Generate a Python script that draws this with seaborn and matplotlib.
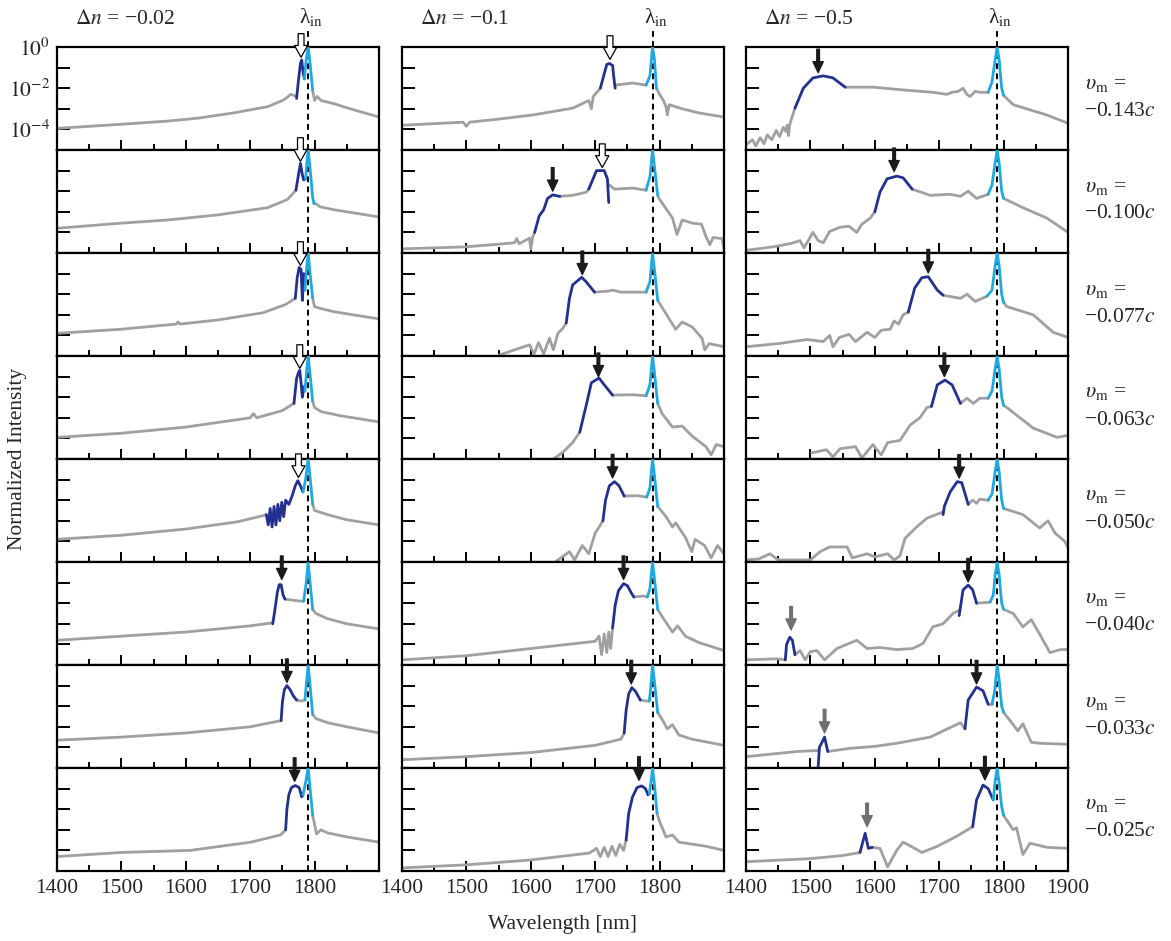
import numpy as np
import matplotlib
matplotlib.use('Agg')
import matplotlib.pyplot as plt
import seaborn as sns

# Spectra: (wavelength nm, log10 normalized intensity)
delta_n = ['\u22120.02', '\u22120.1', '\u22120.5']
speeds = ['\u22120.143', '\u22120.100', '\u22120.077', '\u22120.063',
          '\u22120.050', '\u22120.040', '\u22120.033', '\u22120.025']
lambda_in = 1790

##### column 1 : dn = -0.02
c1r0_gray = [(1400,-3.95),(1450,-3.85),(1500,-3.75),(1571,-3.6),(1620,-3.45),(1674,-3.2),(1727,-2.9),(1752,-2.57),(1763,-2.3),(1772,-2.4),
             None,(1797,-2.1),(1800,-2.6),(1804,-2.4),(1810,-2.6),(1830,-2.75),(1850,-2.95),(1872,-3.15),(1900,-3.4)]
c1r0_blue = [(1772,-2.5),(1775,-1.6),(1778,-0.8),(1780,-0.63),(1782,-1.2),(1784,-1.55)]
c1r0_cyan = [(1784,-1.55),(1787,-0.6),(1790,0.0),(1793,-0.8),(1797,-2.1)]

c1r1_gray = [(1400,-3.8),(1500,-3.55),(1571,-3.4),(1650,-3.15),(1727,-2.8),(1758,-2.4),(1771,-1.95),
             None,(1799,-2.6),(1802,-2.6),(1808,-2.75),(1830,-2.9),(1860,-3.05),(1900,-3.25)]
c1r1_blue = [(1771,-1.95),(1775,-1.2),(1778,-0.65),(1781,-1.2),(1783,-1.45),(1786,-1.4)]
c1r1_cyan = [(1786,-1.4),(1788,-0.6),(1790,0.0),(1793,-0.9),(1797,-2.3),(1799,-2.6)]

c1r2_gray = [(1400,-3.9),(1500,-3.7),(1585,-3.45),(1588,-3.35),(1591,-3.45),(1650,-3.25),(1720,-2.9),(1755,-2.5),(1770,-2.2),
             None,(1797,-2.2),(1800,-2.6),(1810,-2.7),(1830,-2.85),(1860,-3.0),(1900,-3.2)]
c1r2_blue = [(1770,-2.2),(1773,-1.2),(1776,-0.7),(1779,-0.8),(1781,-2.3),(1783,-1.0),(1785,-1.8)]
c1r2_cyan = [(1785,-1.8),(1788,-0.6),(1790,0.0),(1793,-1.0),(1797,-2.2)]

c1r3_gray = [(1400,-3.95),(1500,-3.75),(1600,-3.45),(1700,-3.0),(1705,-2.8),(1710,-3.0),(1750,-2.65),(1768,-2.3),
             None,(1797,-2.2),(1800,-2.5),(1810,-2.7),(1840,-2.9),(1870,-3.05),(1900,-3.2)]
c1r3_blue = [(1768,-2.3),(1772,-1.1),(1775,-0.8),(1777,-0.7),(1779,-1.3),(1781,-2.0),(1783,-1.5),(1785,-1.7)]
c1r3_cyan = [(1785,-1.7),(1788,-0.6),(1790,0.0),(1793,-0.9),(1797,-2.2)]

c1r4_gray = [(1400,-3.9),(1500,-3.7),(1600,-3.4),(1680,-3.05),(1720,-2.75),(1725,-2.7),
             None,(1797,-2.2),(1800,-2.5),(1820,-2.7),(1850,-2.95),(1900,-3.2)]
c1r4_blue = [(1725,-2.7),(1728,-3.2),(1731,-2.4),(1734,-3.3),(1737,-2.3),(1740,-3.2),(1743,-2.2),(1746,-3.0),(1749,-2.1),
             (1752,-2.8),(1755,-2.0),(1760,-2.2),(1765,-1.8),(1770,-1.3),(1774,-1.05),(1778,-1.3),(1782,-1.6)]
c1r4_cyan = [(1782,-1.6),(1786,-1.0),(1790,0.0),(1793,-0.9),(1797,-2.2)]

c1r5_gray = [(1400,-3.8),(1500,-3.6),(1600,-3.4),(1700,-3.1),(1735,-2.95),
             None,(1754,-1.8),(1765,-1.85),(1778,-1.9),(1783,-1.9),
             None,(1797,-2.3),(1802,-2.5),(1820,-2.75),(1850,-3.0),(1900,-3.25)]
c1r5_blue = [(1735,-3.0),(1738,-2.4),(1742,-1.5),(1745,-1.1),(1748,-1.1),(1751,-1.6),(1754,-1.8)]
c1r5_cyan = [(1783,-1.9),(1787,-1.0),(1790,0.0),(1793,-1.0),(1797,-2.3)]

c1r6_gray = [(1400,-3.65),(1500,-3.5),(1600,-3.3),(1700,-3.0),(1748,-2.7),
             None,(1772,-1.7),(1780,-1.75),(1785,-1.7),
             None,(1797,-2.4),(1802,-2.6),(1820,-2.8),(1850,-3.0),(1900,-3.3)]
c1r6_blue = [(1748,-2.7),(1750,-1.8),(1753,-1.2),(1757,-1.0),(1762,-1.2),(1767,-1.5),(1772,-1.7)]
c1r6_cyan = [(1785,-1.7),(1787,-1.0),(1790,0.0),(1793,-1.0),(1797,-2.4)]

c1r7_gray = [(1400,-4.3),(1500,-4.1),(1607,-4.0),(1701,-3.6),(1747,-3.25),(1755,-3.0),
             None,(1797,-2.3),(1803,-3.2),(1810,-3.0),(1820,-3.15),(1851,-3.35),(1900,-3.6)]
c1r7_blue = [(1755,-3.0),(1757,-2.0),(1760,-1.3),(1764,-0.95),(1770,-0.85),(1776,-0.95),(1780,-1.4),(1782,-1.3)]
c1r7_cyan = [(1782,-1.3),(1786,-0.7),(1790,0.0),(1793,-1.0),(1797,-2.3)]

##### column 2 : dn = -0.1
c2r0_gray = [(1400,-3.8),(1450,-3.72),(1495,-3.65),(1500,-3.85),(1505,-3.65),(1550,-3.5),(1603,-3.3),(1665,-2.97),(1690,-2.6),
             (1694,-3.0),(1697,-2.4),(1708,-2.0),
             None,(1731,-1.85),(1745,-1.8),(1758,-1.75),(1779,-1.85),
             None,(1795,-2.0),(1800,-2.3),(1806,-2.6),(1810,-2.9),(1812,-3.3),(1815,-2.8),(1835,-3.0),(1861,-3.2),(1900,-3.4)]
c2r0_blue = [(1708,-2.0),(1714,-1.3),(1718,-0.85),(1722,-0.8),(1727,-0.9),(1729,-1.5),(1731,-2.0)]
c2r0_cyan = [(1779,-1.85),(1785,-1.4),(1789,0.0),(1792,-0.6),(1795,-2.0)]

c2r1_gray = [(1400,-4.8),(1500,-4.7),(1551,-4.57),(1575,-4.5),(1578,-4.3),(1582,-4.55),(1598,-4.28),(1600,-4.8),(1603,-4.2),(1606,-4.0),
             None,(1645,-2.25),(1665,-2.2),(1686,-2.05),(1690,-1.9),
             None,(1722,-1.7),(1730,-1.9),(1758,-1.85),(1779,-1.95),
             None,(1797,-2.2),(1799,-2.35),(1820,-3.3),(1827,-4.1),(1835,-3.4),(1851,-3.55),(1865,-3.6),(1872,-4.2),
             (1878,-4.6),(1883,-4.25),(1897,-4.3),(1900,-4.8)]
c2r1_blue = [(1606,-4.0),(1613,-3.2),(1620,-2.9),(1626,-2.35),(1634,-2.18),(1645,-2.25),
             None,(1690,-1.9),(1702,-1.0),(1714,-1.0),(1719,-1.4),(1721,-2.55)]
c2r1_cyan = [(1779,-1.95),(1785,-1.3),(1789,0.0),(1792,-0.8),(1797,-2.2)]

c2r2_gray = [(1551,-4.95),(1598,-4.46),(1605,-4.9),(1612,-4.35),(1620,-4.9),(1629,-4.13),(1635,-4.7),(1642,-3.9),(1650,-3.65),(1655,-3.4),
             None,(1699,-1.9),(1720,-1.85),(1727,-1.8),(1740,-1.9),(1758,-1.9),(1779,-1.9),
             None,(1797,-2.3),(1804,-2.65),(1825,-3.7),(1835,-3.35),(1851,-3.6),(1866,-4.15),(1870,-4.7),(1877,-4.4),(1900,-4.55)]
c2r2_blue = [(1655,-3.4),(1660,-2.2),(1665,-1.55),(1679,-1.18),(1686,-1.4),(1699,-1.9)]
c2r2_cyan = [(1779,-1.9),(1785,-1.4),(1789,0.0),(1792,-0.8),(1797,-2.3)]

c2r3_gray = [(1637,-4.95),(1650,-4.67),(1665,-4.2),(1676,-3.7),
             None,(1727,-1.9),(1758,-1.88),(1779,-1.93),
             None,(1797,-2.3),(1804,-2.8),(1820,-3.45),(1835,-3.4),(1851,-3.9),(1872,-4.4),(1880,-4.8),(1888,-4.3),(1900,-4.4)]
c2r3_blue = [(1676,-3.7),(1686,-2.4),(1694,-1.3),(1706,-1.07),(1714,-1.4),(1727,-1.9)]
c2r3_cyan = [(1779,-1.93),(1785,-1.4),(1789,0.0),(1792,-0.8),(1797,-2.3)]

c2r4_gray = [(1640,-4.95),(1660,-4.5),(1668,-4.9),(1680,-4.2),(1690,-4.6),(1700,-3.6),(1712,-3.0),
             None,(1745,-1.8),(1765,-1.78),(1780,-1.85),
             None,(1797,-2.3),(1810,-2.8),(1820,-3.3),(1825,-3.1),(1840,-3.8),(1850,-4.5),(1855,-3.9),(1870,-4.2),
             (1880,-4.8),(1890,-4.2),(1900,-4.6)]
c2r4_blue = [(1712,-3.0),(1716,-2.0),(1722,-1.3),(1730,-1.1),(1737,-1.3),(1745,-1.8)]
c2r4_cyan = [(1780,-1.85),(1785,-1.4),(1789,0.0),(1792,-0.8),(1797,-2.3)]

c2r5_gray = [(1400,-4.75),(1500,-4.55),(1600,-4.2),(1700,-3.85),(1706,-3.6),(1710,-4.5),(1714,-3.5),(1718,-4.4),
             (1721,-3.4),(1724,-4.2),(1727,-3.2),
             None,(1760,-1.7),(1775,-1.65),(1781,-1.7),
             None,(1797,-2.3),(1805,-2.7),(1820,-3.4),(1828,-3.1),(1840,-3.6),(1860,-3.9),(1880,-4.1),(1900,-4.3)]
c2r5_blue = [(1727,-3.2),(1731,-2.1),(1736,-1.4),(1744,-1.05),(1750,-1.15),(1756,-1.5),(1760,-1.7)]
c2r5_cyan = [(1781,-1.7),(1785,-1.3),(1789,0.0),(1792,-0.8),(1797,-2.3)]

c2r6_gray = [(1400,-4.6),(1500,-4.45),(1600,-4.25),(1700,-3.9),(1740,-3.6),(1745,-3.3),
             None,(1770,-1.7),(1780,-1.75),(1784,-1.75),
             None,(1797,-2.3),(1805,-2.7),(1812,-3.1),(1820,-2.9),(1830,-3.4),(1850,-3.6),(1900,-3.9)]
c2r6_blue = [(1745,-3.3),(1748,-2.2),(1752,-1.4),(1757,-1.1),(1763,-1.3),(1770,-1.7)]
c2r6_cyan = [(1784,-1.75),(1786,-1.2),(1789,0.0),(1792,-0.8),(1797,-2.3)]

c2r7_gray = [(1400,-4.85),(1500,-4.7),(1598,-4.47),(1691,-4.13),(1702,-3.9),(1708,-4.3),(1714,-3.85),(1720,-4.3),(1726,-3.8),
             (1732,-4.25),(1738,-3.7),(1744,-4.0),(1748,-3.5),
             None,(1796,-2.2),(1800,-2.6),(1810,-3.35),(1820,-3.25),(1830,-3.6),(1872,-3.8),(1900,-4.0)]
c2r7_blue = [(1748,-3.5),(1752,-2.2),(1758,-1.4),(1765,-0.95),(1772,-0.87),(1778,-1.0),(1782,-1.3),(1784,-1.25)]
c2r7_cyan = [(1784,-1.25),(1787,-0.6),(1789,0.0),(1792,-0.8),(1796,-2.2)]

##### column 3 : dn = -0.5
c3r0_gray = [(1400,-4.75),(1410,-4.5),(1415,-4.8),(1422,-4.4),(1428,-4.7),(1433,-4.27),(1440,-4.5),(1447,-4.05),(1452,-4.35),
             (1458,-3.9),(1462,-4.1),(1464,-3.8),(1466,-4.3),(1468,-3.75),(1476,-2.97),
             None,(1554,-1.95),(1597,-1.95),(1650,-2.1),(1690,-2.2),(1712,-2.3),(1720,-2.2),(1730,-2.15),(1737,-2.0),
             (1743,-2.3),(1748,-2.4),(1756,-2.15),(1763,-2.2),(1776,-2.2),
             None,(1800,-2.35),(1815,-2.8),(1846,-3.1),(1867,-3.3),(1900,-3.7)]
c3r0_blue = [(1476,-2.97),(1489,-2.0),(1504,-1.5),(1520,-1.4),(1535,-1.5),(1554,-1.95)]
c3r0_cyan = [(1776,-2.2),(1782,-1.7),(1787,-0.6),(1790,0.0),(1793,-0.6),(1797,-2.0),(1800,-2.35)]

c3r1_gray = [(1400,-4.87),(1442,-4.7),(1468,-4.55),(1484,-4.4),(1490,-4.75),(1504,-4.0),(1512,-4.4),(1520,-4.5),(1530,-3.95),
             (1546,-3.75),(1560,-3.7),(1572,-4.0),(1580,-3.6),(1593,-3.3),(1600,-3.0),
             None,(1658,-1.9),(1686,-2.2),(1717,-2.15),(1733,-2.25),(1745,-2.0),(1758,-2.35),(1776,-2.15),
             None,(1800,-2.35),(1830,-2.8),(1867,-3.3),(1900,-4.0)]
c3r1_blue = [(1600,-3.0),(1608,-2.05),(1619,-1.4),(1634,-1.27),(1644,-1.35),(1658,-1.9)]
c3r1_cyan = [(1776,-2.15),(1782,-1.7),(1787,-0.6),(1790,0.0),(1793,-0.6),(1797,-2.0),(1800,-2.35)]

c3r2_gray = [(1400,-4.55),(1450,-4.4),(1495,-4.2),(1520,-4.3),(1530,-4.0),(1535,-4.55),(1545,-4.1),(1560,-3.95),(1570,-4.3),
             (1588,-3.85),(1600,-4.1),(1610,-3.75),(1624,-3.7),(1630,-3.3),(1637,-3.45),(1644,-3.0),(1652,-2.87),
             None,(1706,-2.05),(1733,-2.2),(1743,-2.0),(1756,-2.35),(1774,-2.1),
             None,(1800,-2.4),(1805,-2.6),(1846,-3.0),(1877,-3.85),(1900,-4.1)]
c3r2_blue = [(1652,-2.87),(1662,-1.7),(1673,-1.2),(1683,-1.15),(1697,-1.8),(1706,-2.05)]
c3r2_cyan = [(1774,-2.1),(1782,-1.8),(1787,-0.6),(1790,0.0),(1793,-0.6),(1797,-2.0),(1800,-2.4)]

c3r3_gray = [(1502,-4.7),(1525,-4.55),(1535,-4.9),(1546,-4.5),(1570,-4.4),(1580,-4.95),(1597,-4.3),(1610,-4.8),(1620,-4.2),
             (1639,-4.1),(1655,-3.35),(1670,-3.0),(1681,-2.5),(1688,-2.45),
             None,(1733,-2.3),(1743,-2.05),(1753,-2.3),(1763,-2.05),(1776,-2.05),
             None,(1800,-2.4),(1805,-2.5),(1846,-3.5),(1883,-3.95),(1900,-3.85)]
c3r3_blue = [(1688,-2.45),(1697,-1.4),(1709,-1.17),(1720,-1.4),(1733,-2.3)]
c3r3_cyan = [(1776,-2.05),(1782,-1.7),(1787,-0.6),(1790,0.0),(1793,-0.6),(1797,-2.0),(1800,-2.4)]

c3r4_gray = [(1400,-4.9),(1420,-4.85),(1437,-4.6),(1450,-4.9),(1500,-4.9),(1515,-4.5),(1530,-4.27),(1557,-4.27),(1565,-4.8),
             (1588,-4.6),(1600,-4.75),(1620,-4.6),(1630,-4.9),(1639,-4.7),(1647,-3.85),(1665,-3.3),(1681,-2.87),(1706,-2.57),
             None,(1745,-2.2),(1752,-2.0),(1758,-2.15),(1763,-1.95),(1776,-2.0),
             None,(1800,-2.4),(1830,-2.7),(1856,-3.35),(1869,-3.0),(1880,-3.6),(1895,-4.0),(1900,-4.3)]
c3r4_blue = [(1706,-2.7),(1708,-2.3),(1717,-1.6),(1728,-1.1),(1735,-1.15),(1745,-2.2)]
c3r4_cyan = [(1776,-2.0),(1782,-1.7),(1787,-0.6),(1790,0.0),(1793,-0.6),(1797,-2.0),(1800,-2.4)]

c3r5_gray = [(1400,-4.75),(1448,-4.7),(1461,-4.75),
             None,(1476,-4.5),(1484,-4.3),(1492,-4.75),(1500,-4.35),(1510,-4.3),(1522,-4.75),(1541,-4.2),(1572,-3.8),
             (1588,-4.2),(1608,-4.15),(1634,-4.25),(1659,-4.2),(1675,-3.95),(1690,-3.15),(1706,-3.0),(1722,-2.48),(1731,-2.35),
             None,(1758,-2.0),(1779,-1.95),
             None,(1800,-2.3),(1815,-2.5),(1830,-3.15),(1843,-2.8),(1856,-3.5),(1872,-4.4),(1888,-4.25),(1900,-4.25)]
c3r5_blue = [(1461,-4.75),(1463,-4.0),(1468,-3.65),(1472,-3.8),(1476,-4.5),
             None,(1731,-2.6),(1737,-1.36),(1745,-1.12),(1752,-1.35),(1758,-2.0)]
c3r5_cyan = [(1779,-1.95),(1784,-1.6),(1787,-0.6),(1790,0.0),(1793,-0.6),(1797,-2.0),(1800,-2.3)]

c3r6_gray = [(1400,-4.45),(1479,-4.2),(1512,-4.15),
             None,(1527,-4.2),(1560,-4.05),(1600,-3.95),(1634,-3.8),(1686,-3.5),(1733,-2.8),(1740,-3.1),
             None,(1776,-1.9),(1782,-1.9),
             None,(1800,-2.3),(1815,-2.9),(1822,-3.2),(1830,-2.85),(1843,-3.75),(1856,-3.8),(1900,-3.85)]
c3r6_blue = [(1512,-4.95),(1514,-4.0),(1522,-3.5),(1527,-4.2),
             None,(1740,-3.1),(1745,-1.7),(1758,-1.07),(1768,-1.25),(1776,-1.9)]
c3r6_cyan = [(1782,-1.9),(1786,-1.3),(1790,0.0),(1793,-0.7),(1797,-2.0),(1800,-2.3)]

c3r7_gray = [(1400,-4.55),(1500,-4.4),(1550,-4.25),(1572,-4.13),(1577,-4.1),
             None,(1596,-3.85),(1608,-3.9),(1620,-4.8),(1634,-4.0),(1644,-3.6),(1662,-3.9),(1673,-4.1),(1697,-3.8),
             (1728,-3.3),(1752,-2.85),
             None,(1800,-2.3),(1815,-3.0),(1820,-2.9),(1830,-4.2),(1841,-3.65),(1867,-3.85),(1900,-3.9)]
c3r7_blue = [(1577,-4.1),(1585,-3.17),(1590,-3.9),(1596,-3.85),
             None,(1752,-2.85),(1758,-1.55),(1768,-0.83),(1776,-1.0),(1784,-1.55)]
c3r7_cyan = [(1784,-1.55),(1787,-0.6),(1790,0.0),(1793,-0.7),(1797,-1.9),(1800,-2.3)]

# arrows: (column, row, wavelength, log10 intensity of the tip)
open_arrows = [(0,0,1779,-0.5),(0,1,1778,-0.55),(0,2,1778,-0.6),(0,3,1777,-0.6),(0,4,1775,-0.9),
               (1,0,1723,-0.6),(1,1,1711,-0.85)]
dark_arrows = [(0,5,1749,-0.85),(0,6,1757,-0.85),(0,7,1769,-0.65),
               (1,1,1634,-2.0),(1,2,1680,-1.05),(1,3,1705,-1.0),(1,4,1727,-0.92),(1,5,1744,-0.85),
               (1,6,1756,-0.92),(1,7,1768,-0.6),
               (2,0,1512,-1.25),(2,1,1630,-1.05),(2,2,1683,-0.97),(2,3,1708,-1.0),(2,4,1731,-0.93),
               (2,5,1745,-0.97),(2,6,1758,-0.92),(2,7,1771,-0.58)]
grey_arrows = [(2,5,1470,-3.3),(2,6,1522,-3.3),(2,7,1588,-2.85)]

##########

sns.set_theme(style='white')
plt.rcParams['font.family'] = ['Liberation Serif', 'DejaVu Serif']
plt.rcParams['mathtext.fontset'] = 'stix'

GRAY = '#a0a0a0'
NAVY = '#24308f'
CYAN = '#1ea9e3'
FS = 15.5

W, H = 1171, 941
colLeft = [57, 402, 746]
colW = 322
top0 = 47
rowH = 103

panels = {}
for c in range(3):
  for r in range(8):
    panels[(c, r)] = (globals()['c%dr%d_gray' % (c + 1, r)],
                      globals()['c%dr%d_blue' % (c + 1, r)],
                      globals()['c%dr%d_cyan' % (c + 1, r)])

def pieces(pts):
  """Split a list of points at None markers"""
  out, cur = [], []
  for p in pts:
    if p is None:
      if cur:
        out.append(cur)
      cur = []
    else:
      cur.append(p)
  if cur:
    out.append(cur)
  return out

def drawLine(ax, pts, color, z):
  for seg in pieces(pts):
    xs = [p[0] for p in seg]
    ys = np.power(10.0, [p[1] for p in seg])
    sns.lineplot(x=xs, y=ys, ax=ax, color=color, lw=2.0, sort=False,
                 estimator=None, zorder=z)

fig = plt.figure(figsize=(W / 100, H / 100), dpi=100)
axes = {}
for c in range(3):
  for r in range(8):
    top = top0 + r * rowH
    ax = fig.add_axes([colLeft[c] / W, 1 - (top + rowH) / H, colW / W, rowH / H])
    axes[(c, r)] = ax
    ax.set_yscale('log')
    gray, blue, cyan = panels[(c, r)]
    ax.axvline(lambda_in, color='black', ls=(0, (3, 2.2)), lw=1.4, zorder=1.5)
    drawLine(ax, gray, GRAY, 2)
    drawLine(ax, blue, NAVY, 3)
    drawLine(ax, cyan, CYAN, 3)
    ax.set_xlim(1400, 1900)
    ax.set_ylim(1e-5, 1)
    ax.set_xlabel('')
    ax.set_ylabel('')
    for s in ax.spines.values():
      s.set_color('black')
      s.set_linewidth(1.6)
    ax.set_xticks(range(1400, 1901, 100))
    ax.set_xticks(range(1450, 1900, 100), minor=True)
    ax.set_yticks([1e-4, 1e-3, 1e-2, 1e-1, 1])
    ax.yaxis.set_minor_locator(matplotlib.ticker.NullLocator())
    ax.tick_params(axis='x', which='major', direction='in', length=7, width=1.4,
                   color='black', bottom=True, top=False, labelsize=FS, pad=6)
    ax.tick_params(axis='x', which='minor', direction='in', length=4.5, width=1.4,
                   color='black', bottom=True, top=False)
    ax.tick_params(axis='y', which='major', direction='in', length=9, width=1.4,
                   color='black', left=True, right=False, labelsize=FS, pad=5)
    if r == 7:
      labs = ['1400', '1500', '1600', '1700', '1800', '1900' if c == 2 else '']
      ax.set_xticklabels(labs)
    else:
      ax.set_xticklabels([])
    if c == 0 and r == 0:
      ax.set_yticklabels(['$10^{-4}$', '', '$10^{-2}$', '', '$10^{0}$'])
    else:
      ax.set_yticklabels([])

def drawArrows(lst, fc, ec, style):
  for c, r, x, tip in lst:
    axes[(c, r)].annotate('', xy=(x, 10 ** tip), xytext=(0, 17), textcoords='offset points',
                          annotation_clip=False, zorder=6,
                          arrowprops=dict(arrowstyle=style, fc=fc, ec=ec, lw=0.9,
                                          shrinkA=0, shrinkB=0, mutation_scale=10))

drawArrows(open_arrows, 'white', 'black', 'simple,head_length=0.85,head_width=0.95,tail_width=0.42')
drawArrows(dark_arrows, '#1a1a1a', '#1a1a1a', 'simple,head_length=0.8,head_width=0.75,tail_width=0.2')
drawArrows(grey_arrows, '#707070', '#707070', 'simple,head_length=0.8,head_width=0.75,tail_width=0.2')

# column headers and lambda_in markers
for c in range(3):
  ax = axes[(c, 0)]
  ax.plot([lambda_in, lambda_in], [1, 10 ** 0.78], color='black', ls=(0, (3, 2.2)), lw=1.4,
          clip_on=False, zorder=1.5)
  fig.text((colLeft[c] + 18) / W, 1 - 20 / H, r'$\Delta n$ = ' + delta_n[c],
           fontsize=FS, ha='left', va='center')
  xLam = colLeft[c] + (lambda_in - 1400) / 500 * colW
  fig.text((xLam + 3) / W, 1 - 17 / H, '\u03bb$_{\\mathrm{in}}$',
           fontsize=FS, ha='center', va='center')

# speed labels on the right
for r in range(8):
  top = top0 + r * rowH
  fig.text(1085 / W, 1 - (top + 37) / H, r'$\upsilon_{\mathrm{m}}$ =', fontsize=FS,
           ha='left', va='center')
  fig.text(1084 / W, 1 - (top + 64) / H, speeds[r] + '$c$', fontsize=FS,
           ha='left', va='center')

fig.text(18 / W, 1 - 459 / H, 'Normalized Intensity', rotation=90, fontsize=FS,
         ha='center', va='center')
fig.text(563 / W, 1 - 925 / H, 'Wavelength [nm]', fontsize=FS, ha='center', va='center')

fig.savefig('out.png', dpi=100)
